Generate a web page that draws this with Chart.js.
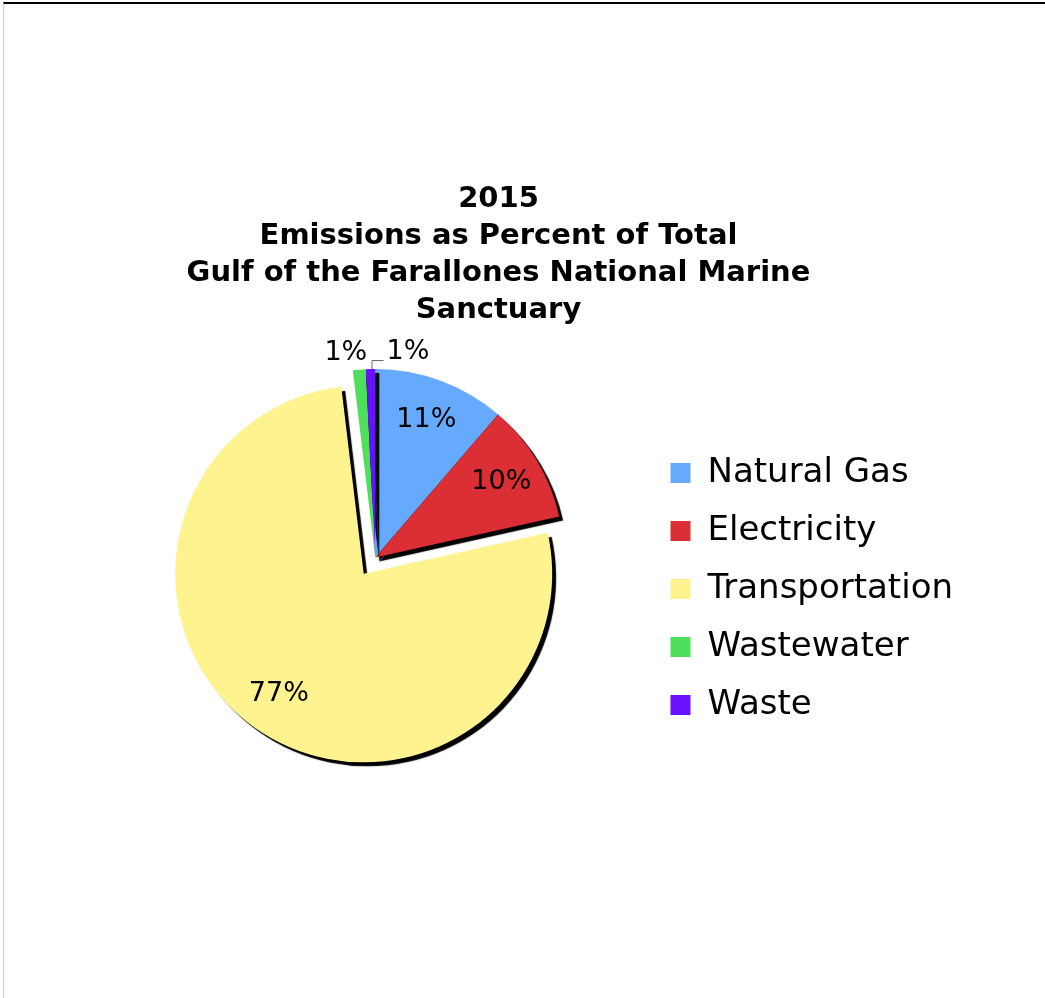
<!DOCTYPE html>
<html>
<head>
<meta charset="utf-8">
<script src="https://cdn.jsdelivr.net/npm/chart.js@4/dist/chart.umd.min.js"></script>
<style>
  body { margin: 0; background: #fff; }
  .frame { position: absolute; left: 3px; top: 2px; width: 1042px; height: 996px; border-top: 2px solid #000; border-left: 1px solid #ccc; }
  .box { position: absolute; left: 4px; top: 4px; width: 1041px; height: 994px; }
</style>
</head>
<body>
<div class="frame"></div>
<div class="box"><canvas id="emissionsChart"></canvas></div>
<script>
const categories = ['Natural Gas', 'Electricity', 'Transportation', 'Wastewater', 'Waste']
const percents = [11.3, 10.2, 76.6, 1.1, 0.8]
const sliceColors = ['#66AAFF', '#DC2E35', '#FFF38F', '#4FE05B', '#6910FF']
const explode = [0, 0, 20, 0, 0]
const titleLines = ['2015', 'Emissions as Percent of Total', 'Gulf of the Farallones National Marine', 'Sanctuary']

const fontFamily = '"DejaVu Sans", Verdana, sans-serif'
const titleShift = -35   // title is centred a bit left of the plot+legend block

function midAngle(arc) {
    const p = arc.getProps(['startAngle', 'endAngle'], true);
    return (p.startAngle + p.endAngle) / 2;
}

// move the title block sideways after layout
const titleShiftPlugin = {
    id: 'titleShift',
    afterLayout(chart) {
        const t = chart.titleBlock;
        if (t) {
            t.left += titleShift;
            t.right += titleShift;
        }
    }
};

// draw the slices ourselves: pulled-out slice + hard black drop shadow
const slicePlugin = {
    id: 'sliceDraw',
    beforeDatasetDraw(chart, args) {
        const ctx = chart.ctx;
        const meta = args.meta;
        ctx.save();
        ctx.shadowColor = '#000';
        ctx.shadowOffsetX = 4;
        ctx.shadowOffsetY = 4;
        ctx.shadowBlur = 1;
        meta.data.forEach((arc, i) => {
            const mid = midAngle(arc);
            ctx.save();
            ctx.translate(Math.cos(mid) * explode[i], Math.sin(mid) * explode[i]);
            arc.draw(ctx, chart.chartArea);
            ctx.restore();
        });
        ctx.restore();
        return false;
    }
};

// percent labels, inside big slices, above small ones
const labelPlugin = {
    id: 'pctLabels',
    afterDatasetsDraw(chart) {
        const ctx = chart.ctx;
        const meta = chart.getDatasetMeta(0);
        const values = chart.data.datasets[0].data;
        let smallCount = 0;
        ctx.save();
        ctx.font = '27px ' + fontFamily;
        ctx.fillStyle = '#000';
        ctx.textBaseline = 'middle';
        meta.data.forEach((arc, i) => {
            const p = arc.getProps(['x', 'y', 'outerRadius'], true);
            const mid = midAngle(arc);
            const cx = p.x + Math.cos(mid) * explode[i];
            const cy = p.y + Math.sin(mid) * explode[i];
            const text = Math.round(values[i]) + '%';
            if (values[i] >= 3) {
                ctx.textAlign = 'center';
                ctx.fillText(text, cx + Math.cos(mid) * p.outerRadius * 0.78, cy + Math.sin(mid) * p.outerRadius * 0.78);
            } else {
                const ax = cx + Math.cos(mid) * p.outerRadius;
                const ay = cy + Math.sin(mid) * p.outerRadius;
                const ly = ay - 17;
                if (smallCount === 0) {
                    ctx.textAlign = 'right';
                    ctx.fillText(text, ax + 8, ly);
                } else {
                    ctx.strokeStyle = '#666';
                    ctx.lineWidth = 1;
                    ctx.beginPath();
                    ctx.moveTo(ax + 1.5, ay);
                    ctx.lineTo(ax + 1.5, ly + 8.5);
                    ctx.lineTo(ax + 13, ly + 8.5);
                    ctx.stroke();
                    ctx.textAlign = 'left';
                    ctx.fillText(text, ax + 16, ly);
                }
                smallCount++;
            }
        });
        ctx.restore();
    }
};

const ctx = document.getElementById('emissionsChart').getContext('2d');

const emissionsChart = new Chart(ctx, {
    type: 'pie',
    data: {
        labels: categories,
        datasets: [{
            data: percents,
            backgroundColor: sliceColors,
            borderWidth: 0
        }]
    },
    options: {
        responsive: true,
        maintainAspectRatio: false,
        animation: false,
        layout: {
            padding: { left: 100, right: 82, top: 0, bottom: 252 }
        },
        plugins: {
            tooltip: { enabled: false },
            title: {
                display: true,
                text: titleLines,
                color: '#000',
                font: { family: fontFamily, size: 29, weight: 'bold', lineHeight: 37 / 29 },
                padding: { top: 177, bottom: 40 }
            },
            legend: {
                display: true,
                position: 'right',
                fullSize: false,
                align: 'end',
                labels: {
                    color: '#000',
                    boxWidth: 20,
                    boxHeight: 20,
                    padding: 24,
                    font: { family: fontFamily, size: 34 }
                }
            }
        }
    },
    plugins: [titleShiftPlugin, slicePlugin, labelPlugin]
});
</script>
</body>
</html>
